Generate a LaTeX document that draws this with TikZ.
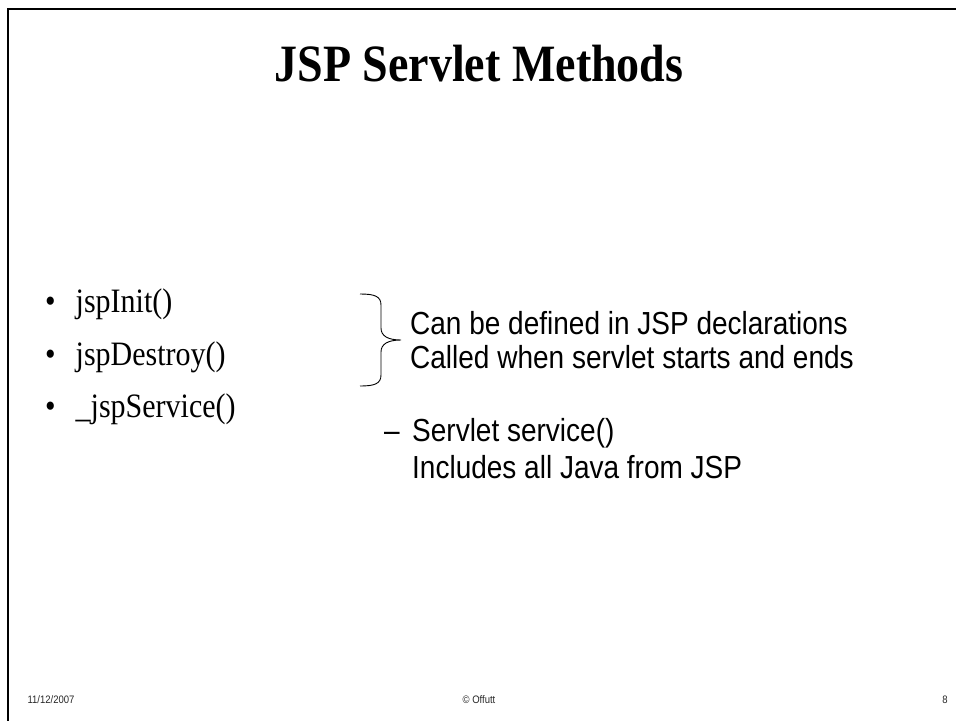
\documentclass[tikz,border=0pt]{standalone}
\usepackage{fontspec}
\setmainfont{Liberation Serif}
\newfontfamily\arialf{Liberation Sans}
\newcommand{\vstretch}[1]{\scalebox{1}[1.14]{#1}}
\begin{document}
\begin{tikzpicture}[x=1pt,y=-1pt,
  titletxt/.style={font=\fontsize{46}{50}\selectfont\bfseries, anchor=base, inner sep=0pt},
  bullettxt/.style={font=\fontsize{30}{34}\selectfont, anchor=base west, inner sep=0pt},
  sanstxt/.style={font=\arialf\fontsize{28}{32}\selectfont, anchor=base west, inner sep=0pt},
  foottxt/.style={font=\arialf\fontsize{9.5}{11}\selectfont, anchor=base, inner sep=0pt, text=black!85},
  framestyle/.style={line width=2.6pt, black}]
\useasboundingbox (0,0) rectangle (956,721);
% frame (top and left edges)
\draw[framestyle] (956,9) -- (8,9) -- (8,721);
% title
\node[titletxt] (title) at (479,81) {\vstretch{JSP Servlet Methods}};
% bullets
\node[bullettxt] (b1) at (45,312) {\vstretch{\textbullet\hspace{20pt}jspInit()}};
\node[bullettxt] (b2) at (45,365) {\vstretch{\textbullet\hspace{20pt}jspDestroy()}};
\node[bullettxt] (b3) at (45,417) {\vstretch{\textbullet\hspace{20pt}\_jspService()}};
% brace
\coordinate (btop) at (360,294);
\coordinate (btip) at (401,340);
\coordinate (bbot) at (360,386);
\draw[line width=0.9pt] (btop) .. controls (374,294) and (381,296) .. (381,305)
  -- (381,328) .. controls (381,336) and (388,340) .. (btip)
  .. controls (388,340) and (381,344) .. (381,352)
  -- (381,375) .. controls (381,384) and (374,386) .. (bbot);
% right texts
\node[sanstxt] (r1) at (410,334) {\vstretch{Can be defined in JSP declarations}};
\node[sanstxt] (r2) at (410,368) {\vstretch{Called when servlet starts and ends}};
\node[sanstxt] (r3d) at (384,441) {\vstretch{–}};
\node[sanstxt] (r3) at (412,441) {\vstretch{Servlet service()}};
\node[sanstxt] (r4) at (412,478) {\vstretch{Includes all Java from JSP}};
% footer
\node[foottxt] (f1) at (51,703) {\vstretch{11/12/2007}};
\node[foottxt] (f2) at (479,703) {\vstretch{\textcopyright{} Offutt}};
\node[foottxt] (f3) at (945,703) {\vstretch{8}};
\end{tikzpicture}
\end{document}
